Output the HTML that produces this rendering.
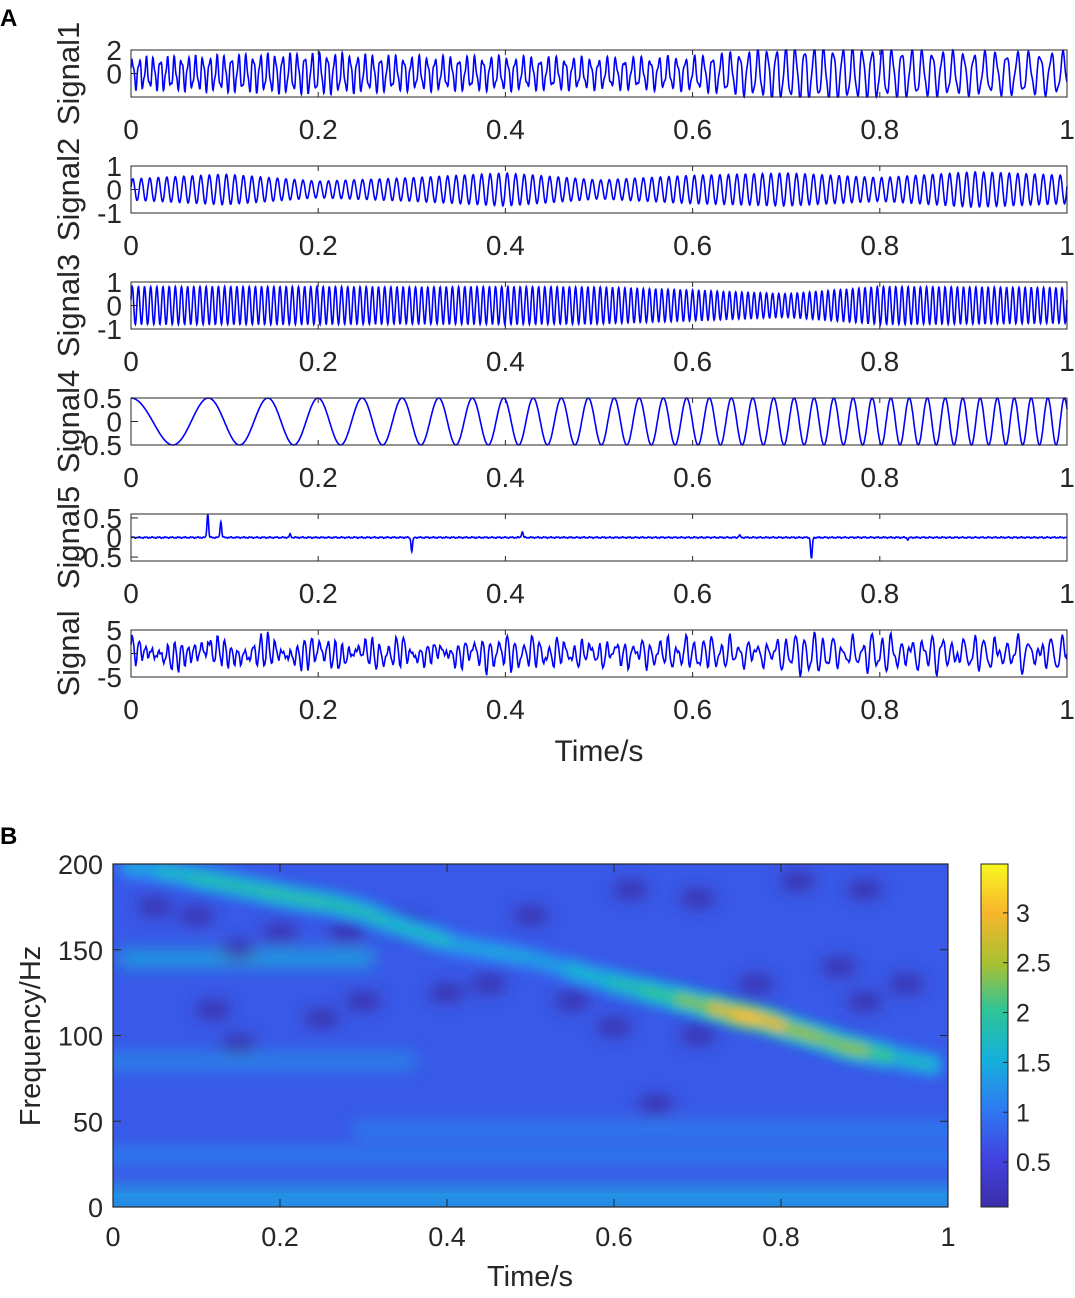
<!DOCTYPE html>
<html><head><meta charset="utf-8"><style>
body{margin:0;background:#fff;}
svg text{font-family:"Liberation Sans",Arial,sans-serif;fill:#262626;}
</style></head><body>
<svg id="fig" width="1075" height="1293" viewBox="0 0 1075 1293" xmlns="http://www.w3.org/2000/svg">
<defs>
<filter id="blur1" x="-10%" y="-10%" width="120%" height="120%"><feGaussianBlur stdDeviation="8"/></filter>
<filter id="blur2" x="-10%" y="-10%" width="120%" height="120%"><feGaussianBlur stdDeviation="5"/></filter>
<clipPath id="hmclip"><rect x="113" y="864" width="835" height="343"/></clipPath>
<linearGradient id="parula" x1="0" y1="1" x2="0" y2="0">
<stop offset="0" stop-color="#3b2ea8"/><stop offset="0.14" stop-color="#4242e0"/><stop offset="0.28" stop-color="#2f78f2"/>
<stop offset="0.43" stop-color="#15b0da"/><stop offset="0.57" stop-color="#2ec49a"/><stop offset="0.71" stop-color="#a8c032"/>
<stop offset="0.86" stop-color="#f8b62c"/><stop offset="1" stop-color="#f8f820"/></linearGradient>
</defs>
<text x="0" y="26" font-size="24" font-weight="bold" style="fill:#000">A</text>
<text x="0" y="844" font-size="24" font-weight="bold" style="fill:#000">B</text>
<g id="panelA"></g>
<g id="panelB"></g>
</svg>
<script>
// ---- Panel A data (parameter knots) ----
var knotT = [0,0.1,0.2,0.3,0.4,0.5,0.6,0.7,0.8,0.9,1.0];
var sig1Freq = [135,130,125,120,115,110,105,100,95,88,80];
var sig1Amp  = [1.1,1.3,1.5,1.2,1.2,1.1,1.2,2.0,1.9,1.6,1.6];
var sig2Freq = [110,110,110,110,110,110,110,110,110,110,110];
var sig2Amp  = [0.45,0.65,0.35,0.5,0.7,0.4,0.6,0.7,0.5,0.75,0.6];
var sig3Freq = [152,152,152,152,152,152,152,152,152,152,152];
var sig3Amp  = [0.8,0.8,0.8,0.78,0.8,0.78,0.65,0.5,0.8,0.78,0.75];
var sig4Freq = [10,15,20,25,31,36,41,46,50,54,57];
var sig4Amp  = [0.5,0.5,0.5,0.5,0.5,0.5,0.5,0.5,0.5,0.5,0.5];
var spikeT = [0.082,0.096,0.17,0.3,0.418,0.65,0.727,0.83];
var spikeV = [0.6,0.4,0.08,-0.35,0.15,0.06,-0.55,-0.05];
var yLabels = ["Signal1","Signal2","Signal3","Signal4","Signal5","Signal"];
var yRanges = [[-2,2],[-1,1],[-1,1],[-0.5,0.5],[-0.6,0.6],[-5,5]];
var yTicks = [["2","0"],["1","0","-1"],["1","0","-1"],["0.5","0","-0.5"],["0.5","0","-0.5"],["5","0","-5"]];
var yTickVals = [[2,0],[1,0,-1],[1,0,-1],[0.5,0,-0.5],[0.5,0,-0.5],[5,0,-5]];
var xTickVals = [0,0.2,0.4,0.6,0.8,1];
var xTickLabels = ["0","0.2","0.4","0.6","0.8","1"];

// ---- Panel B data ----
var ridgeT = [0.02,0.06,0.1,0.14,0.18,0.22,0.26,0.3,0.33,0.41,0.5,0.55,0.6,0.64,0.68,0.72,0.75,0.78,0.81,0.85,0.88,0.91,0.94,0.98];
var ridgeF = [198,196,192,188,184,180,177,172,166,153,145,138,131,126,121,116,112,109,104,98,93,90,87,83];
var ridgeV = [1.3,1.5,1.8,1.8,1.8,1.9,1.8,1.8,1.7,1.6,1.2,1.5,1.7,1.9,2.1,2.5,3.0,3.1,2.6,2.2,2.4,2.3,1.8,1.5];
var bandF = [145,85,45,30,8];
var bandV = [1.5,1.2,1.1,1.1,1.4];
var bandT0 = [0.02,0.0,0.3,0.0,0.0];
var bandT1 = [0.3,0.35,1.0,1.0,1.0];
var darkT = [0.1,0.15,0.2,0.28,0.35,0.45,0.55,0.62,0.7,0.82,0.9,0.95,0.25,0.4,0.6,0.77,0.87,0.12,0.5,0.7,0.05,0.3,0.65,0.9,0.15];
var darkF = [170,150,160,160,165,130,120,185,180,190,185,130,110,125,105,130,140,115,170,100,175,120,60,120,95];
var cbTicks = [0.5,1,1.5,2,2.5,3];

var NS = "http://www.w3.org/2000/svg";
function mk(tag, attrs, parent){var e=document.createElementNS(NS,tag);for(var k in attrs)e.setAttribute(k,attrs[k]);parent.appendChild(e);return e;}
function interp(arr,t){var i=Math.min(Math.floor(t*10),9);var f=t*10-i;return arr[i]*(1-f)+arr[i+1]*f;}

var AX0=131, AX1=1067, top0=50, rowH=116, boxH=47;
function xs(t){return AX0+t*(AX1-AX0);}
var N=3000, T=[], S=[[],[],[],[],[],[]];
var ph=[0,0,0,0], freqs=[sig1Freq,sig2Freq,sig3Freq,sig4Freq];
for(var i=0;i<=N;i++){
  var t=i/N; T.push(t);
  for(var k=0;k<4;k++){ ph[k]+=2*Math.PI*interp(freqs[k],t)/N; }
  S[0].push(interp(sig1Amp,t)*Math.sin(ph[0]) + 0.35*Math.sin(ph[0]*2.3));
  S[1].push(interp(sig2Amp,t)*Math.sin(ph[1]));
  S[2].push(interp(sig3Amp,t)*Math.sin(ph[2]));
  S[3].push(0.5*Math.cos(ph[3]));
  var s5=0.01*Math.sin(t*900)+0.01*Math.sin(t*2300);
  for(var j=0;j<spikeT.length;j++){var d=(t-spikeT[j])/0.0012; s5+=spikeV[j]*Math.exp(-d*d);}
  S[4].push(s5);
}
for(var i=0;i<=N;i++){S[5].push(1.4*(S[0][i]+S[1][i]+S[2][i]+S[3][i]+S[4][i]*2));}

var pA=document.getElementById('panelA');
for(var r=0;r<6;r++){
  var y0=top0+r*rowH, y1=y0+boxH, rg=yRanges[r];
  var ys=(function(y0,y1,rg){return function(v){return y1-(v-rg[0])/(rg[1]-rg[0])*(y1-y0);};})(y0,y1,rg);
  var g=mk('g',{},pA);
  
  
  mk('rect',{x:AX0,y:y0,width:AX1-AX0,height:boxH,fill:'#fff'},g);
  var d='';var step=(r==5)?3:1;
  for(var i=0;i<=N;i+=step){var v=Math.max(rg[0],Math.min(rg[1],S[r][i]));d+=(i?'L':'M')+xs(T[i]).toFixed(1)+' '+ys(v).toFixed(1);}
  var ln=mk('path',{d:d,fill:'none',stroke:'#0000ff','stroke-width':1.6},g);
  
  
  mk('rect',{x:AX0,y:y0,width:AX1-AX0,height:boxH,fill:'none',stroke:'#262626','stroke-width':1},g);
  for(var k=0;k<xTickVals.length;k++){
    var x=xs(xTickVals[k]);
    mk('line',{x1:x,y1:y0,x2:x,y2:y0+5,stroke:'#262626'},g);
    mk('line',{x1:x,y1:y1,x2:x,y2:y1-5,stroke:'#262626'},g);
    var tl=mk('text',{x:x,y:y1+42,'font-size':28,'text-anchor':'middle'},g);tl.textContent=xTickLabels[k];
    
    
  }
  for(var k=0;k<yTickVals[r].length;k++){
    var yy=ys(yTickVals[r][k]);
    mk('line',{x1:AX0,y1:yy,x2:AX0+7,y2:yy,stroke:'#262626'},g);
    var yl=mk('text',{x:122,y:yy+10,'font-size':28,'text-anchor':'end'},g);yl.textContent=yTicks[r][k];
    
    
  }
  var cy=(y0+y1)/2;
  var lab=mk('text',{x:79,y:cy,'font-size':31,'text-anchor':'middle',transform:'rotate(-90 79 '+cy+')'},g);
  lab.textContent=yLabels[r];
  
  
}
var xt=mk('text',{x:599,y:761,'font-size':30,'text-anchor':'middle'},pA);xt.textContent='Time/s';



// ---- Panel B ----
var pB=document.getElementById('panelB');
var BX0=113,BX1=948,BY0=864,BY1=1207,VMAX=3.49,VMIN=0.05;
function bx(t){return BX0+t*(BX1-BX0);}
function by(f){return BY1-f/200*(BY1-BY0);}
var cStops=[[0,[59,46,168]],[0.14,[66,66,224]],[0.28,[47,120,242]],[0.43,[21,176,218]],[0.57,[46,196,154]],[0.71,[168,192,50]],[0.86,[248,182,44]],[1,[248,248,32]]];
function cmap(v){var p=Math.max(0,Math.min(1,(v-VMIN)/(VMAX-VMIN)));for(var i=1;i<cStops.length;i++){if(p<=cStops[i][0]){var a=cStops[i-1],b=cStops[i],f=(p-a[0])/(b[0]-a[0]);return 'rgb('+[0,1,2].map(function(c){return Math.round(a[1][c]*(1-f)+b[1][c]*f);}).join(',')+')';}}return 'rgb(248,248,32)';}
var hm=mk('g',{'clip-path':'url(#hmclip)'},pB);


mk('rect',{x:BX0,y:BY0,width:BX1-BX0,height:BY1-BY0,fill:cmap(0.75)},hm);
var gb=mk('g',{filter:'url(#blur1)'},hm);
for(var i=0;i<bandF.length;i++){
  var b=mk('rect',{x:bx(bandT0[i])-10,y:by(bandF[i])-8,width:bx(bandT1[i])-bx(bandT0[i])+20,height:16,fill:cmap(bandV[i]),opacity:0.85},gb);
  
  
}
for(var i=0;i<darkT.length;i++){
  var dk=mk('ellipse',{cx:bx(darkT[i]),cy:by(darkF[i]),rx:18,ry:9,fill:cmap(0.05),opacity:1},gb);
  
  
}
var gr=mk('g',{filter:'url(#blur2)'},hm);
for(var i=0;i<ridgeT.length-1;i++){
  var v=(ridgeV[i]+ridgeV[i+1])/2;
  var rl=mk('line',{x1:bx(ridgeT[i]),y1:by(ridgeF[i]),x2:bx(ridgeT[i+1]),y2:by(ridgeF[i+1]),stroke:cmap(v*0.7),'stroke-width':28,'stroke-linecap':'round'},gr);
  
  
}
for(var i=0;i<ridgeT.length-1;i++){
  var v=(ridgeV[i]+ridgeV[i+1])/2;
  var rl=mk('line',{x1:bx(ridgeT[i]),y1:by(ridgeF[i]),x2:bx(ridgeT[i+1]),y2:by(ridgeF[i+1]),stroke:cmap(v),'stroke-width':12,'stroke-linecap':'round'},gr);
  
  
}
mk('rect',{x:BX0,y:BY1-14,width:BX1-BX0,height:14,fill:cmap(1.3),opacity:0.7},hm);
mk('rect',{x:BX0,y:BY0,width:BX1-BX0,height:BY1-BY0,fill:'none',stroke:'#262626','stroke-width':1.2},pB);
var bxt=[0,0.2,0.4,0.6,0.8,1];
for(var k=0;k<bxt.length;k++){
  var x=bx(bxt[k]);
  mk('line',{x1:x,y1:BY0,x2:x,y2:BY0+8,stroke:'#262626'},pB);
  mk('line',{x1:x,y1:BY1,x2:x,y2:BY1-8,stroke:'#262626'},pB);
  var tl=mk('text',{x:x,y:BY1+39,'font-size':27,'text-anchor':'middle'},pB);tl.textContent=xTickLabels[k];
  
  
}
var byt=[0,50,100,150,200];
for(var k=0;k<byt.length;k++){
  var yy=by(byt[k]);
  mk('line',{x1:BX0,y1:yy,x2:BX0+8,y2:yy,stroke:'#262626'},pB);
  mk('line',{x1:BX1,y1:yy,x2:BX1-8,y2:yy,stroke:'#262626'},pB);
  var tl=mk('text',{x:103,y:yy+10,'font-size':27,'text-anchor':'end'},pB);tl.textContent=String(byt[k]);
  
  
}
var yt=mk('text',{x:40,y:1036,'font-size':29,'text-anchor':'middle',transform:'rotate(-90 40 1036)'},pB);yt.textContent='Frequency/Hz';


var xt2=mk('text',{x:530,y:1286,'font-size':29,'text-anchor':'middle'},pB);xt2.textContent='Time/s';


var cb=mk('rect',{x:981,y:BY0,width:27,height:BY1-BY0,fill:'url(#parula)',stroke:'#262626','stroke-width':1},pB);


function cby(v){return BY1-(v-VMIN)/(VMAX-VMIN)*(BY1-BY0);}
for(var k=0;k<cbTicks.length;k++){
  var yy=cby(cbTicks[k]);
  mk('line',{x1:1008,y1:yy,x2:1003,y2:yy,stroke:'#262626'},pB);
  var tl=mk('text',{x:1016,y:yy+9,'font-size':25},pB);tl.textContent=String(cbTicks[k]);
  
  
}
</script>
</body></html>
